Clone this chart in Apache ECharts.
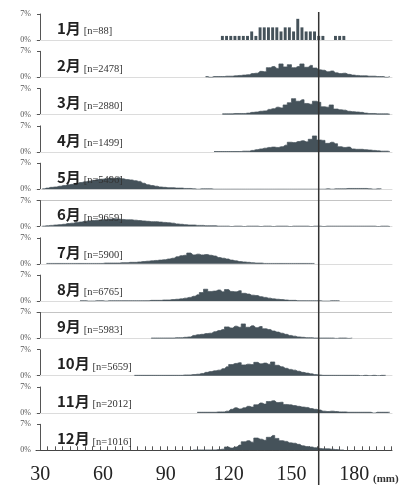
<!DOCTYPE html>
<html>
<head>
<meta charset="utf-8">
<script src="https://cdn.jsdelivr.net/npm/echarts@6/dist/echarts.min.js"></script>
<style>
  html, body { margin: 0; padding: 0; background: #fff; }
  #chart { width: 420px; height: 489px; }
</style>
</head>
<body>
<div id="chart"></div>
<script>
// monthly length-frequency (% per 2 mm bin)
const months = ['1月', '2月', '3月', '4月', '5月', '6月', '7月', '8月', '9月', '10月', '11月', '12月']
const counts = [88, 2478, 2880, 1499, 5496, 9659, 5900, 6765, 5983, 5659, 2012, 1016]
const starts = [117, 109, 117, 113, 31, 31, 33, 49, 83, 75, 105, 103] // first bin centre (mm)
const binWidth = 2

const jan = [1.1, 1.1, 1.1, 1.1, 1.1, 1.1, 1.1, 2.3, 1.1, 3.4, 3.4, 3.4, 3.4, 3.4, 2.3, 3.4, 3.4, 2.3, 5.7, 3.4,
  2.3, 2.3, 2.3, 1.1, 1.1, 0, 0, 1.1, 1.1, 1.1]
const feb = [0.2, 0, 0.2, 0.2, 0.2, 0.3, 0.3, 0.4, 0.5, 0.6, 0.7, 1.0, 1.1, 1.6, 1.5, 2.6, 2.9, 2.4, 3.6, 2.8,
  3.4, 2.6, 2.9, 3.6, 2.7, 3.2, 2.5, 2.0, 1.9, 1.5, 1.7, 1.2, 1.0, 1.1, 0.8, 0.6, 0.5, 0.4, 0.4, 0.3,
  0.3, 0.2, 0.2, 0, 0.2]
const mar = [0.2, 0.2, 0.2, 0.3, 0.3, 0.3, 0.4, 0.6, 0.7, 0.9, 1.0, 1.4, 1.6, 2.0, 1.8, 2.6, 3.2, 4.3, 3.6, 4.0,
  3.0, 2.8, 3.6, 3.3, 2.1, 2.0, 2.6, 1.5, 1.3, 1.2, 0.9, 0.8, 0.7, 0.6, 0.4, 0.3, 0.3, 0.2, 0.2, 0.2, 0.1]
const apr = [0.1, 0.1, 0.1, 0.1, 0.1, 0.1, 0.1, 0.2, 0.2, 0.4, 0.6, 0.8, 1.0, 1.2, 1.3, 1.2, 1.4, 1.8, 2.6, 2.5,
  2.8, 3.0, 2.7, 3.4, 4.3, 3.2, 3.1, 2.3, 2.6, 2.2, 1.4, 1.2, 1.3, 0.8, 0.7, 0.7, 0.6, 0.5, 0.4, 0.3,
  0.2, 0.2, 0.1]
const may = [0.1, 0.3, 0.5, 0.6, 0.8, 1.0, 1.2, 1.3, 1.6, 1.8, 2.0, 2.2, 2.4, 2.6, 2.7, 2.8, 3.0, 2.9, 3.1, 2.8,
  2.6, 2.5, 2.3, 2.1, 1.6, 1.2, 1.0, 0.8, 0.6, 0.5, 0.4, 0.4, 0.3, 0.3, 0.2, 0.2, 0.1, 0, 0.1, 0.1,
  0.1, 0, 0, 0, 0, 0, 0, 0, 0, 0, 0, 0, 0, 0, 0, 0, 0, 0, 0, 0,
  0, 0, 0, 0, 0, 0, 0, 0, 0.1, 0, 0.1, 0.1, 0.1, 0.2, 0.2, 0.2, 0.2, 0.2, 0.1, 0, 0.1, 0.1]
const jun = [0.1, 0.2, 0.3, 0.4, 0.5, 0.6, 0.8, 0.9, 1.1, 1.2, 1.4, 1.5, 1.6, 1.7, 1.8, 1.9, 2.0, 2.1, 2.0, 1.9,
  1.8, 1.8, 1.7, 1.6, 1.5, 1.4, 1.3, 1.3, 1.2, 1.1, 1.0, 0.9, 0.7, 0.6, 0.5, 0.4, 0.4, 0.3, 0.3, 0.2,
  0.2, 0.2, 0.1, 0.1, 0.1, 0, 0.1, 0.1, 0, 0.1, 0.1, 0.1, 0, 0.1, 0.1, 0, 0.1, 0.1, 0.1, 0,
  0.1, 0.1, 0.1, 0.1, 0, 0.1, 0.1, 0, 0.1, 0.1, 0.1, 0.1, 0.1, 0.1, 0.1, 0.1, 0.1, 0.1, 0.1, 0.1,
  0, 0.1, 0.1, 0]
const jul = [0.1, 0.1, 0.1, 0.1, 0.1, 0.1, 0.1, 0.1, 0.1, 0.1, 0.1, 0.1, 0.1, 0.1,
  0.2, 0.2, 0.2, 0.2, 0.3, 0.3, 0.4, 0.4, 0.5, 0.6, 0.7, 0.8, 0.9, 1.0, 1.1, 1.3, 1.5, 1.9, 2.2, 2.3,
  2.9, 2.4, 2.6, 2.4, 2.5, 2.3, 2.1, 1.7, 1.5, 1.3, 1.0, 0.8, 0.6, 0.5, 0.4, 0.3, 0.2, 0.2, 0.1, 0.1,
  0.1, 0.1, 0.1, 0.1, 0.1, 0.1, 0.1, 0.1, 0.1, 0.1, 0.1]
const aug = [0.1, 0.1, 0, 0, 0.1, 0.1, 0, 0.1, 0.1, 0.1, 0.1, 0.1, 0.1, 0.1, 0.1, 0.1, 0.1, 0.2, 0.2, 0.2,
  0.3, 0.3, 0.4, 0.5, 0.6, 0.8, 1.0, 1.3, 1.7, 2.3, 3.2, 2.6, 2.7, 3.0, 2.5, 3.1, 2.6, 2.5, 2.8, 2.1,
  1.9, 1.6, 1.5, 1.2, 1.0, 0.8, 0.6, 0.5, 0.4, 0.3, 0.2, 0.2, 0.1, 0.1, 0.1, 0.1, 0.1, 0.1, 0, 0,
  0.1, 0.1, 0.1]
const sep = [0.1, 0.1, 0.1, 0.1, 0.1, 0.1, 0.2, 0.2, 0.3, 0.4, 0.8, 1.0, 1.1, 1.3, 1.4, 1.8, 2.1, 2.4, 3.1, 2.8,
  3.3, 3.0, 3.9, 3.0, 3.4, 2.9, 3.2, 2.6, 2.4, 2.0, 1.7, 1.4, 1.1, 0.8, 0.6, 0.4, 0.3, 0.2, 0.2, 0.1,
  0.1, 0.1, 0.1, 0.1, 0, 0.1, 0.1, 0, 0.1]
const oct = [0.1, 0.1, 0.1, 0.1, 0.1, 0.1, 0.1, 0.1, 0.1, 0.1, 0.1, 0.1, 0.2, 0.2, 0.3, 0.4, 0.6, 0.9, 1.1, 1.3,
  1.5, 1.9, 2.4, 3.0, 3.3, 3.5, 2.9, 3.1, 3.0, 3.6, 3.2, 3.4, 3.1, 3.7, 2.8, 2.4, 2.0, 1.7, 1.5, 1.2,
  0.9, 0.7, 0.5, 0.3, 0.2, 0.1, 0.1, 0.1, 0.1, 0.1, 0.1, 0.1, 0.1, 0.1, 0, 0.1, 0, 0.1, 0, 0.1, 0.1]
const nov = [0.2, 0.2, 0.2, 0.2, 0.2, 0.3, 0.3, 0.5, 1.0, 1.4, 1.1, 1.4, 1.8, 1.6, 2.2, 2.7, 2.4, 3.1, 3.3, 2.8,
  2.9, 2.3, 2.2, 2.0, 1.8, 1.6, 1.5, 1.2, 1.0, 0.8, 0.5, 0.4, 0.5, 0.4, 0.3, 0.3, 0.2, 0.2, 0.2, 0.2,
  0.2, 0.2, 0, 0.2, 0.2, 0.2, 0.2]
const dec = [0.1, 0.1, 0.1, 0.1, 0.1, 0.1, 0.2, 0.3, 0.9, 0.6, 0.9, 1.4, 2.3, 2.6, 2.2, 3.3, 3.0, 2.7, 3.5, 4.0,
  3.2, 2.6, 2.4, 2.0, 1.9, 1.6, 1.2, 1.0, 0.9, 0.7, 0.5, 0.4, 0.4, 0.3, 0.2, 0.1, 0.1]

const monthValues = [jan, feb, mar, apr, may, jun, jul, aug, sep, oct, nov, dec]
const xTickLabels = [30, 60, 90, 120, 150, 180]
const referenceLength = 163 // vertical reference line (mm)

const fill = '#45525a'
const xMin = 28
const xMax = 198
const panelTop = 14
const panelStep = 37.3
const panelHeight = 26
const gridLeft = 36
const gridRight = 28

// minor ticks along the bottom axis
const minorTicks = []
for (let k = 0; k <= 47; k++) minorTicks.push(30 + k * 150 / 42)

const chart = echarts.init(document.getElementById('chart'))

const grid = []
const xAxis = []
const yAxis = []
const series = []
const title = []

monthValues.forEach((values, i) => {
  const top = panelTop + panelStep * i
  const last = i === monthValues.length - 1
  grid.push({ left: gridLeft, right: gridRight, top: top, height: panelHeight })
  xAxis.push({
    type: 'value', gridIndex: i, min: xMin, max: xMax,
    axisLine: { lineStyle: { color: last ? '#444' : '#dcdcdc', width: 1 } },
    axisTick: last
      ? { show: true, inside: true, length: 4, customValues: minorTicks, lineStyle: { color: '#555' } }
      : { show: false },
    axisLabel: last
      ? { show: true, customValues: xTickLabels, fontSize: 20, fontFamily: 'Liberation Serif', color: '#222', margin: 14 }
      : { show: false },
    splitLine: { show: false }
  })
  yAxis.push({
    type: 'value', gridIndex: i, min: 0, max: 7, interval: 7, offset: -4,
    axisLine: { show: true, lineStyle: { color: '#555', width: 1 } },
    axisTick: { show: true, length: 3, lineStyle: { color: '#555' } },
    axisLabel: { fontSize: 8, fontFamily: 'Liberation Serif', color: '#555', margin: 9, formatter: '{value}%' },
    splitLine: { show: i === 5 || i === 8, lineStyle: { color: '#c4c4c4' } }
  })
  series.push({
    type: i === 0 ? 'bar' : 'line',
    xAxisIndex: i,
    yAxisIndex: i,
    step: 'middle',
    symbol: 'none',
    barWidth: '70%',
    silent: true,
    itemStyle: { color: fill },
    lineStyle: { color: fill, width: 0.7 },
    areaStyle: { color: fill, opacity: 1 },
    data: values.map((v, k) => [starts[i] + k * binWidth, v])
  })
  title.push({
    left: 57,
    top: top + panelHeight - 21,
    padding: 0,
    text: `{m|${months[i]}} {n|[n=${counts[i]}]}`,
    textStyle: {
      fontSize: 10,
      fontWeight: 'normal',
      lineHeight: 18,
      rich: {
        m: { fontSize: 15, lineHeight: 18, fontWeight: 'bold', fontFamily: 'Noto Sans CJK JP', color: '#222' },
        n: { fontSize: 10.5, lineHeight: 16, verticalAlign: 'bottom', fontWeight: 'normal', fontFamily: 'Liberation Serif', color: '#333' }
      }
    }
  })
})

// full-height overlay for the reference line
const overlay = monthValues.length
grid.push({ left: gridLeft, right: gridRight, top: 12, bottom: 4 })
xAxis.push({ type: 'value', gridIndex: overlay, min: xMin, max: xMax, show: false })
yAxis.push({ type: 'value', gridIndex: overlay, min: 0, max: 1, show: false })
series.push({
  type: 'line',
  xAxisIndex: overlay,
  yAxisIndex: overlay,
  symbol: 'none',
  silent: true,
  lineStyle: { color: '#333', width: 1.5 },
  data: [[referenceLength, 0], [referenceLength, 1]]
})

title.push({
  left: 373, top: 474, padding: 0, text: '(mm)',
  textStyle: { fontSize: 11, fontWeight: 'bold', fontFamily: 'Liberation Serif', color: '#333' }
})

chart.setOption({
  animation: false,
  backgroundColor: '#fff',
  title: title,
  grid: grid,
  xAxis: xAxis,
  yAxis: yAxis,
  series: series
})
</script>
</body>
</html>
